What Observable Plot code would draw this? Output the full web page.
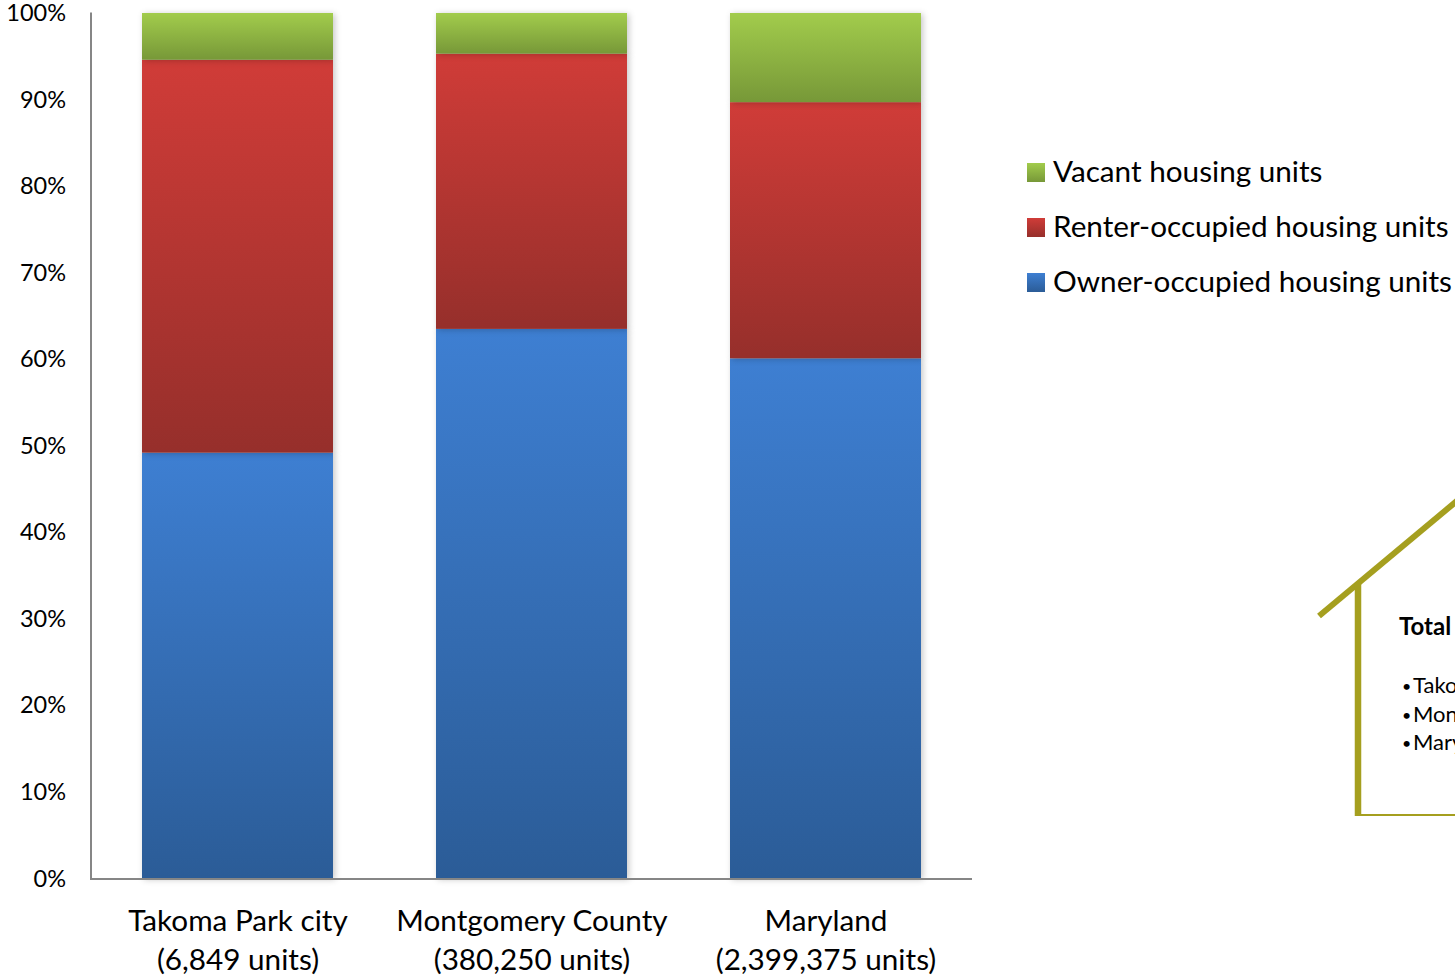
<!DOCTYPE html>
<html><head><meta charset="utf-8">
<script src="https://cdn.jsdelivr.net/npm/d3@7"></script>
<script src="https://cdn.jsdelivr.net/npm/@observablehq/plot@0.6"></script>
<style>
html,body{margin:0;padding:0;background:#fff;overflow:hidden}
.bars rect{filter:drop-shadow(2px 1px 3px rgba(0,0,0,.22))}
</style></head><body><div id="chart"></div>
<script>
const places = ["Takoma Park city\n(6,849 units)", "Montgomery County\n(380,250 units)", "Maryland\n(2,399,375 units)"];
const owner = [49.2, 63.5, 60.1];
const renter = [45.4, 31.8, 29.6];
const vacant = [5.4, 4.7, 10.3];
const seriesNames = ["Owner-occupied housing units", "Renter-occupied housing units", "Vacant housing units"];
const seriesValues = [owner, renter, vacant];
const gradients = [["g-owner", "#3e7fd2", "#2b5c97"], ["g-renter", "#d03c38", "#962f2b"], ["g-vacant", "#a2cc4c", "#779838"]];
const yTicks = [0,10,20,30,40,50,60,70,80,90,100];
const houseTitle = "Total";
const houseLabels = ["Tako", "Mon", "Mary"];
const font = "Lato, Carlito, sans-serif";
const rows = seriesNames.flatMap((s, i) => places.map((p, j) => ({place: p, series: s, value: seriesValues[i][j]})));

const defs = () => {
  const g = d3.create("svg:defs");
  for (const [id, a, b] of gradients) {
    const lg = g.append("linearGradient").attr("id", id).attr("x1", 0).attr("y1", 0).attr("x2", 0).attr("y2", 1);
    lg.append("stop").attr("offset", "0%").attr("stop-color", a);
    lg.append("stop").attr("offset", "100%").attr("stop-color", b);
  }
  return g.node();
};

const legend = () => {
  const g = d3.create("svg:g").attr("font-family", font).attr("text-anchor", "start");
  [...seriesNames].reverse().forEach((s, i) => {
    const y = 172 + i * 55;
    g.append("rect").attr("x", 1027).attr("y", y - 9).attr("width", 18).attr("height", 19)
      .attr("fill", `url(#${gradients[2 - i][0]})`);
    g.append("text").attr("x", 1053).attr("y", y + 10).attr("font-size", 29.7).attr("fill", "#000").text(s);
  });
  return g.node();
};

const house = () => {
  const c = "#a59f1f";
  const g = d3.create("svg:g").attr("font-family", font).attr("text-anchor", "start");
  g.append("line").attr("x1", 1319).attr("y1", 616).attr("x2", 1470).attr("y2", 490).attr("stroke", c).attr("stroke-width", 6);
  g.append("line").attr("x1", 1358).attr("y1", 583).attr("x2", 1358).attr("y2", 816).attr("stroke", c).attr("stroke-width", 6.5);
  g.append("line").attr("x1", 1355).attr("y1", 815).attr("x2", 1470).attr("y2", 815).attr("stroke", c).attr("stroke-width", 2);
  g.append("text").attr("x", 1399).attr("y", 635).attr("font-size", 24).attr("font-weight", 700).text(houseTitle);
  houseLabels.forEach((t, i) => {
    const y = [693, 722, 750][i];
    g.append("text").attr("x", 1402).attr("y", y - 1).attr("font-size", 16).text("•");
    g.append("text").attr("x", 1413).attr("y", y).attr("font-size", 22).text(t);
  });
  return g.node();
};

const plot = Plot.plot({
  width: 1455, height: 977,
  marginLeft: 90.5, marginRight: 483, marginTop: 13, marginBottom: 98.5,
  style: {fontFamily: font, background: "#fff", color: "#000"},
  x: {domain: places, paddingInner: 0.35, paddingOuter: 0.17, align: 0.5, label: null},
  y: {domain: [0, 100], label: null},
  color: {domain: seriesNames, range: gradients.map(d => `url(#${d[0]})`)},
  marks: [
    defs,
    Plot.barY(rows, {x: "place", y: "value", fill: "series", order: seriesNames, className: "bars"}),
    Plot.frame({anchor: "left", stroke: "#868686", strokeWidth: 2}),
    Plot.ruleY([0], {stroke: "#868686", strokeWidth: 2}),
    Plot.axisY({ticks: yTicks, tickSize: 0, tickPadding: 25, tickFormat: d => d + "%", fontSize: 23.5, label: null, fill: "#000"}),
    Plot.axisX({tickSize: 0, tickPadding: 24, fontSize: 29.7, lineHeight: 1.31, label: null, fill: "#000", lineAnchor: "top"}),
    legend,
    house
  ]
});
document.getElementById("chart").appendChild(plot);
</script></body></html>
